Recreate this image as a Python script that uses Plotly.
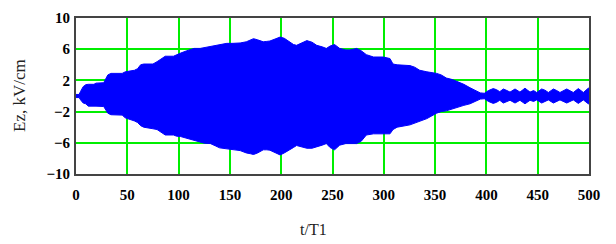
import plotly.graph_objects as go

# Envelope of the field Ez(t) (t/T1, kV/cm)
t_env = [0, 3, 4.5, 7, 9.5, 12, 17.5, 19.5, 27, 29, 31, 34, 45, 48, 52, 57, 60, 63, 66, 75,
         79, 83, 87, 95, 98, 102, 108, 115, 121, 125, 131, 136, 140, 147, 153, 160, 166, 170,
         173, 177, 182.5, 186, 189, 194, 199, 203, 208.6, 212, 215, 220, 225, 230, 234.6, 240,
         244, 247.6, 252, 257, 263, 267, 273.6, 278, 283, 290, 299.5, 306, 309, 313, 325.5, 330,
         335, 342, 351.5, 356, 361, 367, 372.6, 378, 384, 389, 394, 398,
         402, 406.7, 410, 413, 416.5, 420, 423, 427.9, 432.7, 437.6, 442.5, 446, 449, 453.9,
         457, 460.4, 465.3, 468.5, 471.7, 478.3, 484.7, 489.6, 494.5, 499.3, 500]
ez_upper = [0.2, 0.2, 0.6, 1.2, 1.45, 1.5, 1.5, 1.65, 1.7, 2.2, 2.7, 2.9, 2.9, 3.1, 3.2, 3.3, 3.5, 4.0, 4.1, 4.1,
            4.4, 4.7, 5.1, 5.1, 5.3, 5.5, 5.8, 6.1, 6.1, 6.2, 6.3, 6.4, 6.5, 6.75, 6.75, 6.8, 6.95, 7.2,
            7.35, 7.2, 6.95, 7.0, 7.05, 7.3, 7.56, 7.4, 6.95, 6.6, 6.5, 6.8, 7.1, 6.9, 6.5, 6.3,
            6.1, 6.4, 6.6, 6.1, 5.9, 5.9, 6.1, 5.8, 5.3, 5.0, 5.0, 4.8, 4.1, 4.0, 3.9, 3.7,
            3.3, 3.1, 2.9, 2.7, 2.3, 2.1, 1.8, 1.5, 1.06, 0.7, 0.4, 0.35,
            0.7, 0.95, 0.8, 0.55, 0.9, 0.7, 0.5, 0.9, 0.5, 1.0, 0.5, 0.7, 0.45, 0.9,
            0.75, 0.45, 0.9, 0.7, 0.45, 0.9, 0.45, 0.95, 0.45, 1.0, 1.0]
ez_lower = [-0.2, -0.2, -0.5, -0.9, -1.0, -1.3, -1.3, -1.3, -1.35, -1.8, -2.2, -2.4, -2.45, -2.8, -3.0, -3.2, -3.4, -3.8, -4.0, -4.2,
            -4.3, -4.6, -5.0, -5.0, -5.15, -5.2, -5.4, -5.6, -5.9, -6.05, -6.1, -6.4, -6.65, -6.75, -6.9, -7.0, -7.3, -7.4,
            -7.5, -7.3, -6.9, -6.9, -6.95, -7.3, -7.56, -7.3, -6.9, -6.6, -6.35, -6.5, -6.7, -6.7, -6.5, -6.3,
            -6.1, -6.6, -6.9, -6.3, -6.1, -6.1, -6.1, -5.8, -5.0, -4.85, -4.85, -4.85, -4.3, -4.0, -3.7, -3.5,
            -3.2, -2.9, -2.2, -2.0, -1.9, -1.7, -1.4, -1.2, -1.0, -0.7, -0.4, -0.35,
            -0.7, -0.95, -0.8, -0.55, -0.9, -0.75, -0.55, -0.9, -0.55, -1.0, -0.55, -0.7, -0.5, -0.9,
            -0.75, -0.5, -0.9, -0.7, -0.5, -0.9, -0.5, -0.95, -0.5, -1.0, -1.0]

x_ticks = [0, 50, 100, 150, 200, 250, 300, 350, 400, 450, 500]
y_ticks = [-10, -6, -2, 2, 6, 10]
y_tick_labels = ["\u221210", "\u22126", "\u22122", "2", "6", "10"]

BLUE = "#0000ff"
GREEN = "#00ee00"
SERIF = "Liberation Serif, Times New Roman, serif"

fig = go.Figure()
fig.add_trace(go.Scatter(
    x=t_env + t_env[::-1],
    y=ez_upper + ez_lower[::-1],
    mode="lines",
    fill="toself",
    fillcolor=BLUE,
    line=dict(color=BLUE, width=1),
    hoverinfo="skip",
    showlegend=False,
))

fig.update_layout(
    width=616, height=244,
    margin=dict(l=76, r=27, t=10, b=70),
    paper_bgcolor="white",
    plot_bgcolor="white",
    showlegend=False,
    xaxis=dict(
        range=[0, 500], tickvals=x_ticks, ticktext=[str(v) for v in x_ticks],
        showgrid=True, gridcolor=GREEN, gridwidth=1.5,
        zeroline=False, showline=True, mirror=True, linecolor="#444444", linewidth=2,
        ticks="outside", ticklen=6, tickcolor="rgba(0,0,0,0)",
        tickfont=dict(family=SERIF, size=15, color="black", weight="bold"),
    ),
    yaxis=dict(
        range=[-10, 10], tickvals=y_ticks, ticktext=y_tick_labels,
        showgrid=True, gridcolor=GREEN, gridwidth=1.5,
        zeroline=False, showline=True, mirror=True, linecolor="#444444", linewidth=2,
        ticks="outside", ticklen=1, tickcolor="rgba(0,0,0,0)",
        tickfont=dict(family=SERIF, size=15, color="black", weight="bold"),
    ),
    annotations=[
        dict(text="Ez, kV/cm", textangle=-90, xref="paper", yref="paper",
             x=(19 - 76) / 513, y=0.5, xanchor="center", yanchor="middle",
             showarrow=False, font=dict(family=SERIF, size=17, color="#222222")),
        dict(text="t/T1", xref="paper", yref="paper",
             x=(313 - 76) / 513, y=-(232 - 174) / 164, xanchor="center", yanchor="middle",
             showarrow=False, font=dict(family=SERIF, size=16, color="#222222")),
    ],
)

fig.write_html("out.html", config={"displayModeBar": False},
               post_script="document.body.style.margin='0px';")
